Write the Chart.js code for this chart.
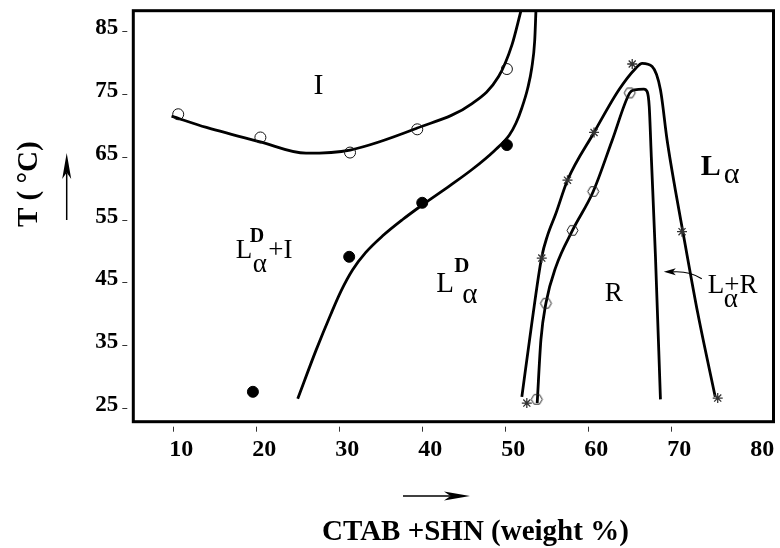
<!DOCTYPE html>
<html>
<head>
<meta charset="utf-8">
<script src="https://cdn.jsdelivr.net/npm/chart.js@4.4.0/dist/chart.umd.min.js"></script>
<style>
html,body{margin:0;padding:0;background:#fff;}
</style>
</head>
<body>
<canvas id="phase" width="780" height="548"></canvas>
<script>
var FONT = '"Liberation Serif", "Times New Roman", serif';

// axis ticks
var xTicks = [10, 20, 30, 40, 50, 60, 70, 80];
var yTicks = [25, 35, 45, 55, 65, 75, 85];

// phase boundaries
var curveI_x = [9.8, 14.0, 20.5, 26.0, 31.3, 39.4, 46.0, 49.2, 50.8, 51.9];
var curveI_y = [71.0, 69.2, 66.9, 65.1, 65.6, 69.1, 73.0, 77.3, 82.3, 87.8];

var curveD_x = [25.0, 27.2, 29.0, 30.2, 31.6, 33.2, 35.2, 37.6, 40.0, 43.3, 46.0, 48.7, 50.5, 51.3, 52.0, 52.7, 53.2, 53.55, 53.7];
var curveD_y = [26.0, 33.7, 39.5, 43.1, 46.5, 49.3, 51.9, 54.5, 56.85, 59.9, 62.5, 65.5, 68.0, 69.9, 72.3, 75.4, 78.7, 83.0, 87.8];

var outerR_x = [52.0, 53.2, 54.4, 55.07, 56.1, 57.5, 60.7, 63.7, 65.7, 66.5, 67.7, 68.7, 69.5, 70.5, 71.4, 73.2, 75.3];
var outerR_y = [26.3, 38.0, 48.6, 51.9, 55.5, 60.8, 68.4, 75.2, 78.6, 79.4, 78.9, 75.2, 67.2, 59.2, 52.6, 39.6, 26.3];

var innerR_x = [53.85, 54.3, 54.9, 56.1, 58.1, 60.6, 62.9, 65.0, 65.6, 66.7, 67.1, 67.35, 67.6, 68.1, 68.7];
var innerR_y = [25.3, 35.4, 41.2, 47.0, 52.8, 59.0, 67.2, 74.7, 75.2, 75.3, 74.9, 72.5, 64.5, 48.6, 25.9];

// measured points
var openCircle_x = [10.6, 20.5, 31.3, 39.4, 50.2];
var openCircle_y = [71.3, 67.6, 65.2, 68.9, 78.5];

var filledCircle_x = [19.6, 31.2, 40.0, 50.2];
var filledCircle_y = [27.1, 48.6, 57.2, 66.4];

var star_x = [65.3, 60.7, 57.5, 54.4, 52.6, 71.3, 75.6];
var star_y = [79.3, 68.4, 60.8, 48.4, 25.3, 52.6, 26.1];

var hex_x = [65.0, 60.6, 58.1, 54.9, 53.8];
var hex_y = [74.7, 59.0, 52.8, 41.2, 25.9];

// phase labels, anchored at data coords (left / baseline of first glyph)
var phaseLabels = [
    {x: 26.9, y: 74.6, parts: [{t: 'I', size: 30}]},
    {x: 73.55, y: 61.6, parts: [{t: 'L', size: 30, bold: true}, {t: 'α', size: 30, dx: 23, dy: 8}]},
    {x: 74.4, y: 42.8, parts: [{t: 'L', size: 27}, {t: 'α', size: 27, dx: 16, dy: 14}, {t: '+R', size: 27, dx: 16.5, dy: 0}]},
    {x: 62.0, y: 41.6, parts: [{t: 'R', size: 27}]},
    {x: 17.54, y: 48.4, parts: [{t: 'L', size: 27}, {t: 'D', size: 20, bold: true, dx: 14, dy: -16}, {t: 'α', size: 27, dx: 17, dy: 14}, {t: '+I', size: 27, dx: 32.5, dy: 0}]},
    {x: 41.7, y: 43.0, parts: [{t: 'L', size: 29}, {t: 'D', size: 21, bold: true, dx: 18, dy: -20}, {t: 'α', size: 29, dx: 26, dy: 11}]}
];
var calloutTip = {x: 69.1, y: 46.2};

function pts(xs, ys) {
    var out = [];
    for (var i = 0; i < xs.length; i++) out.push({x: xs[i], y: ys[i]});
    return out;
}

function hexagon(r) {
    var s = Math.ceil(2 * r + 4);
    var c = document.createElement('canvas');
    c.width = s; c.height = s;
    var g = c.getContext('2d');
    g.beginPath();
    for (var i = 0; i < 6; i++) {
        var a = i * Math.PI / 3;
        g.lineTo(s / 2 + r * Math.cos(a), s / 2 + r * Math.sin(a));
    }
    g.closePath();
    g.lineWidth = 1;
    g.strokeStyle = '#222';
    g.stroke();
    return c;
}

function arrow(ctx, x1, y1, x2, y2, len, half) {
    var dx = x2 - x1, dy = y2 - y1, d = Math.sqrt(dx * dx + dy * dy);
    var ux = dx / d, uy = dy / d, nx = -uy, ny = ux;
    var bx = x2 - ux * len, by = y2 - uy * len;
    var kx = x2 - ux * len * 0.75, ky = y2 - uy * len * 0.75;
    ctx.beginPath();
    ctx.moveTo(x1, y1);
    ctx.lineTo(kx, ky);
    ctx.stroke();
    ctx.beginPath();
    ctx.moveTo(x2, y2);
    ctx.lineTo(bx + nx * half, by + ny * half);
    ctx.lineTo(kx, ky);
    ctx.lineTo(bx - nx * half, by - ny * half);
    ctx.closePath();
    ctx.fill();
}

var decor = {
    id: 'decor',
    afterDraw: function (chart) {
        var ctx = chart.ctx, a = chart.chartArea;
        var xs = chart.scales.x, ys = chart.scales.y;
        ctx.save();
        ctx.strokeStyle = '#000';
        ctx.fillStyle = '#000';

        // frame
        ctx.lineWidth = 3;
        ctx.strokeRect(a.left, a.top, a.right - a.left, a.bottom - a.top);

        // tick marks
        ctx.lineWidth = 1;
        ctx.strokeStyle = '#333';
        xTicks.forEach(function (v) {
            if (v >= 80) return;
            var px = Math.round(xs.getPixelForValue(v)) + 0.5;
            ctx.beginPath();
            ctx.moveTo(px, a.bottom + 5);
            ctx.lineTo(px, a.bottom + 10);
            ctx.stroke();
        });
        yTicks.forEach(function (v) {
            var py = Math.round(ys.getPixelForValue(v)) + 3.5;
            ctx.beginPath();
            ctx.moveTo(a.left - 11, py);
            ctx.lineTo(a.left - 6, py);
            ctx.stroke();
        });

        // axis titles and arrows
        ctx.strokeStyle = '#000';
        ctx.fillStyle = '#000';
        ctx.font = 'bold 29px ' + FONT;
        ctx.textAlign = 'center';
        ctx.textBaseline = 'alphabetic';
        ctx.fillText('CTAB +SHN (weight %)', (a.left + a.right) / 2 + 22, chart.height - 8);

        ctx.save();
        ctx.translate(36.5, (a.top + a.bottom) / 2 - 32);
        ctx.rotate(-Math.PI / 2);
        ctx.fillText('T ( °C)', 0, 0);
        ctx.restore();

        ctx.lineWidth = 1.5;
        arrow(ctx, 403, 496, 470, 496, 26, 4.5);
        arrow(ctx, 66.7, 220, 66.7, 153, 26, 4.5);

        // phase labels
        ctx.textAlign = 'left';
        phaseLabels.forEach(function (lb) {
            var bx = xs.getPixelForValue(lb.x), by = ys.getPixelForValue(lb.y);
            lb.parts.forEach(function (p) {
                ctx.font = (p.bold ? 'bold ' : '') + p.size + 'px ' + FONT;
                ctx.fillText(p.t, bx + (p.dx || 0), by + (p.dy || 0));
            });
        });

        // callout arrow for L alpha + R
        var tx = xs.getPixelForValue(calloutTip.x), ty = ys.getPixelForValue(calloutTip.y);
        ctx.lineWidth = 1.2;
        ctx.beginPath();
        ctx.moveTo(tx + 38, ty + 7);
        ctx.quadraticCurveTo(tx + 26, ty - 1, tx + 9, ty);
        ctx.stroke();
        ctx.beginPath();
        ctx.moveTo(tx, ty);
        ctx.lineTo(tx + 12, ty - 3.5);
        ctx.lineTo(tx + 9, ty);
        ctx.lineTo(tx + 12, ty + 3.5);
        ctx.closePath();
        ctx.fill();

        ctx.restore();
    }
};

function curve(xs, ys) {
    return {
        type: 'line', data: pts(xs, ys), borderColor: '#000', borderWidth: 2.8,
        pointRadius: 0, cubicInterpolationMode: 'monotone', fill: false, order: 2
    };
}

var ctx = document.getElementById('phase').getContext('2d');
var chart = new Chart(ctx, {
    type: 'scatter',
    data: {
        datasets: [
            curve(curveI_x, curveI_y),
            curve(curveD_x, curveD_y),
            curve(outerR_x, outerR_y),
            curve(innerR_x, innerR_y),
            {data: pts(openCircle_x, openCircle_y), pointStyle: 'circle', pointRadius: 5.5,
             backgroundColor: 'rgba(0,0,0,0)', borderColor: '#111', borderWidth: 1, order: 1},
            {data: pts(filledCircle_x, filledCircle_y), pointStyle: 'circle', pointRadius: 5.5,
             backgroundColor: '#000', borderColor: '#000', borderWidth: 1, order: 1},
            {data: pts(star_x, star_y), pointStyle: 'star', pointRadius: 5,
             borderColor: '#333', borderWidth: 1.3, order: 1},
            {data: pts(hex_x, hex_y), pointStyle: hexagon(5.5), order: 1}
        ]
    },
    options: {
        responsive: false,
        animation: false,
        events: [],
        layout: {padding: {top: 10.7, right: 5, left: 0, bottom: 0}},
        plugins: {legend: {display: false}, tooltip: {enabled: false}},
        scales: {
            x: {
                type: 'linear', min: 5.19, max: 82.32,
                afterBuildTicks: function (s) { s.ticks = xTicks.map(function (v) { return {value: v}; }); },
                afterFit: function (s) { s.height = 126.3; s.paddingLeft = 0; s.paddingRight = 0; },
                grid: {display: false, drawTicks: false},
                border: {display: false},
                ticks: {color: '#000', padding: 13.4, labelOffset: 8, maxRotation: 0, autoSkip: false,
                        font: {family: FONT, size: 24, weight: 'bold'}}
            },
            y: {
                type: 'linear', min: 22.34, max: 87.79,
                afterBuildTicks: function (s) { s.ticks = yTicks.map(function (v) { return {value: v}; }); },
                afterFit: function (s) { s.width = 133.3; s.paddingTop = 0; s.paddingBottom = 0; },
                grid: {display: false, drawTicks: false},
                border: {display: false},
                ticks: {color: '#000', padding: 15, autoSkip: false,
                        font: {family: FONT, size: 23, weight: 'bold'}}
            }
        }
    },
    plugins: [decor]
});
</script>
</body>
</html>
